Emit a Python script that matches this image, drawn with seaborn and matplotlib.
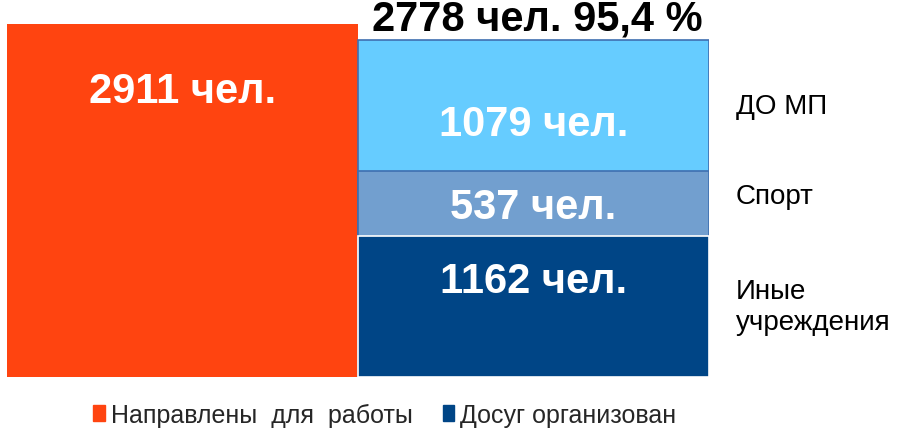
import numpy as np
import pandas as pd
import matplotlib
matplotlib.use("Agg")
import matplotlib.pyplot as plt
import matplotlib.patches as mpatches
import seaborn as sns

# data
groups = ["Направлены  для  работы", "Досуг организован"]
sent_total = 2911
leisure_parts = ["Иные\nучреждения", "Спорт", "ДО МП"]   # bottom -> top
leisure_values = [1162, 537, 1079]

orange = "#FF4410"
part_colors = ["#004586", "#729FCF", "#66CCFF"]

sns.set_style("white")
plt.rcParams["font.family"] = ["Liberation Sans", "DejaVu Sans"]

fig = plt.figure(figsize=(8.99, 4.31), dpi=100)
ax = fig.add_axes([0.0078, 0.123, 0.781, 0.819])

leisure_total = sum(leisure_values)
cum = np.cumsum(leisure_values)

# orange bar
sns.barplot(x=[groups[0]], y=[sent_total], order=groups, color=orange,
            width=1.0, saturation=1, linewidth=0, ax=ax)

# stacked bar: draw cumulative heights from largest to smallest
edge = ["white", "#3F6FB0", "#3F6FB0"]
for i in reversed(range(len(leisure_values))):
    sns.barplot(x=[groups[1]], y=[cum[i]], order=groups, color=part_colors[i],
                width=1.0, saturation=1, edgecolor=edge[i], linewidth=1.2, ax=ax)

ax.set_xlim(-0.5, 1.5)
ax.set_ylim(0, sent_total)
ax.set_xlabel("")
ax.set_ylabel("")
ax.set_xticks([])
ax.set_yticks([])
for s in ax.spines.values():
    s.set_visible(False)

bold = dict(color="white", fontsize=30, fontweight="bold", ha="center", va="center")
ax.text(0, sent_total * 0.81, f"{sent_total} чел.", **bold)

label_pos = [0.68, 0.45, 0.36]
name_pos = [0.5, 0.62, 0.5]
bottoms = np.concatenate([[0], cum[:-1]])
for b, v, p, q, name in zip(bottoms, leisure_values, label_pos, name_pos, leisure_parts):
    ax.text(1, b + v * p, f"{v} чел.", **bold)
    ax.text(1.038, b + v * q, name, transform=ax.get_yaxis_transform(),
            fontsize=20, ha="left", va="center", color="black",
            linespacing=1.25, clip_on=False)

pct = f"{leisure_total / sent_total * 100:.1f}".replace(".", ",")
ax.annotate(f"{leisure_total} чел. {pct} %", xy=(1, leisure_total),
            xytext=(3, 1), textcoords="offset points",
            fontsize=30, fontweight="bold", ha="center", va="bottom",
            color="black", annotation_clip=False)

handles = [mpatches.Patch(color=orange, label=groups[0]),
           mpatches.Patch(color=part_colors[0], label=groups[1])]
fig.legend(handles=handles, loc="lower center", bbox_to_anchor=(0.428, -0.045),
           ncol=2, frameon=False, fontsize=18, handlelength=0.45,
           handleheight=0.6, handletextpad=0.25, columnspacing=1.2)

fig.savefig("out.png", dpi=100)
